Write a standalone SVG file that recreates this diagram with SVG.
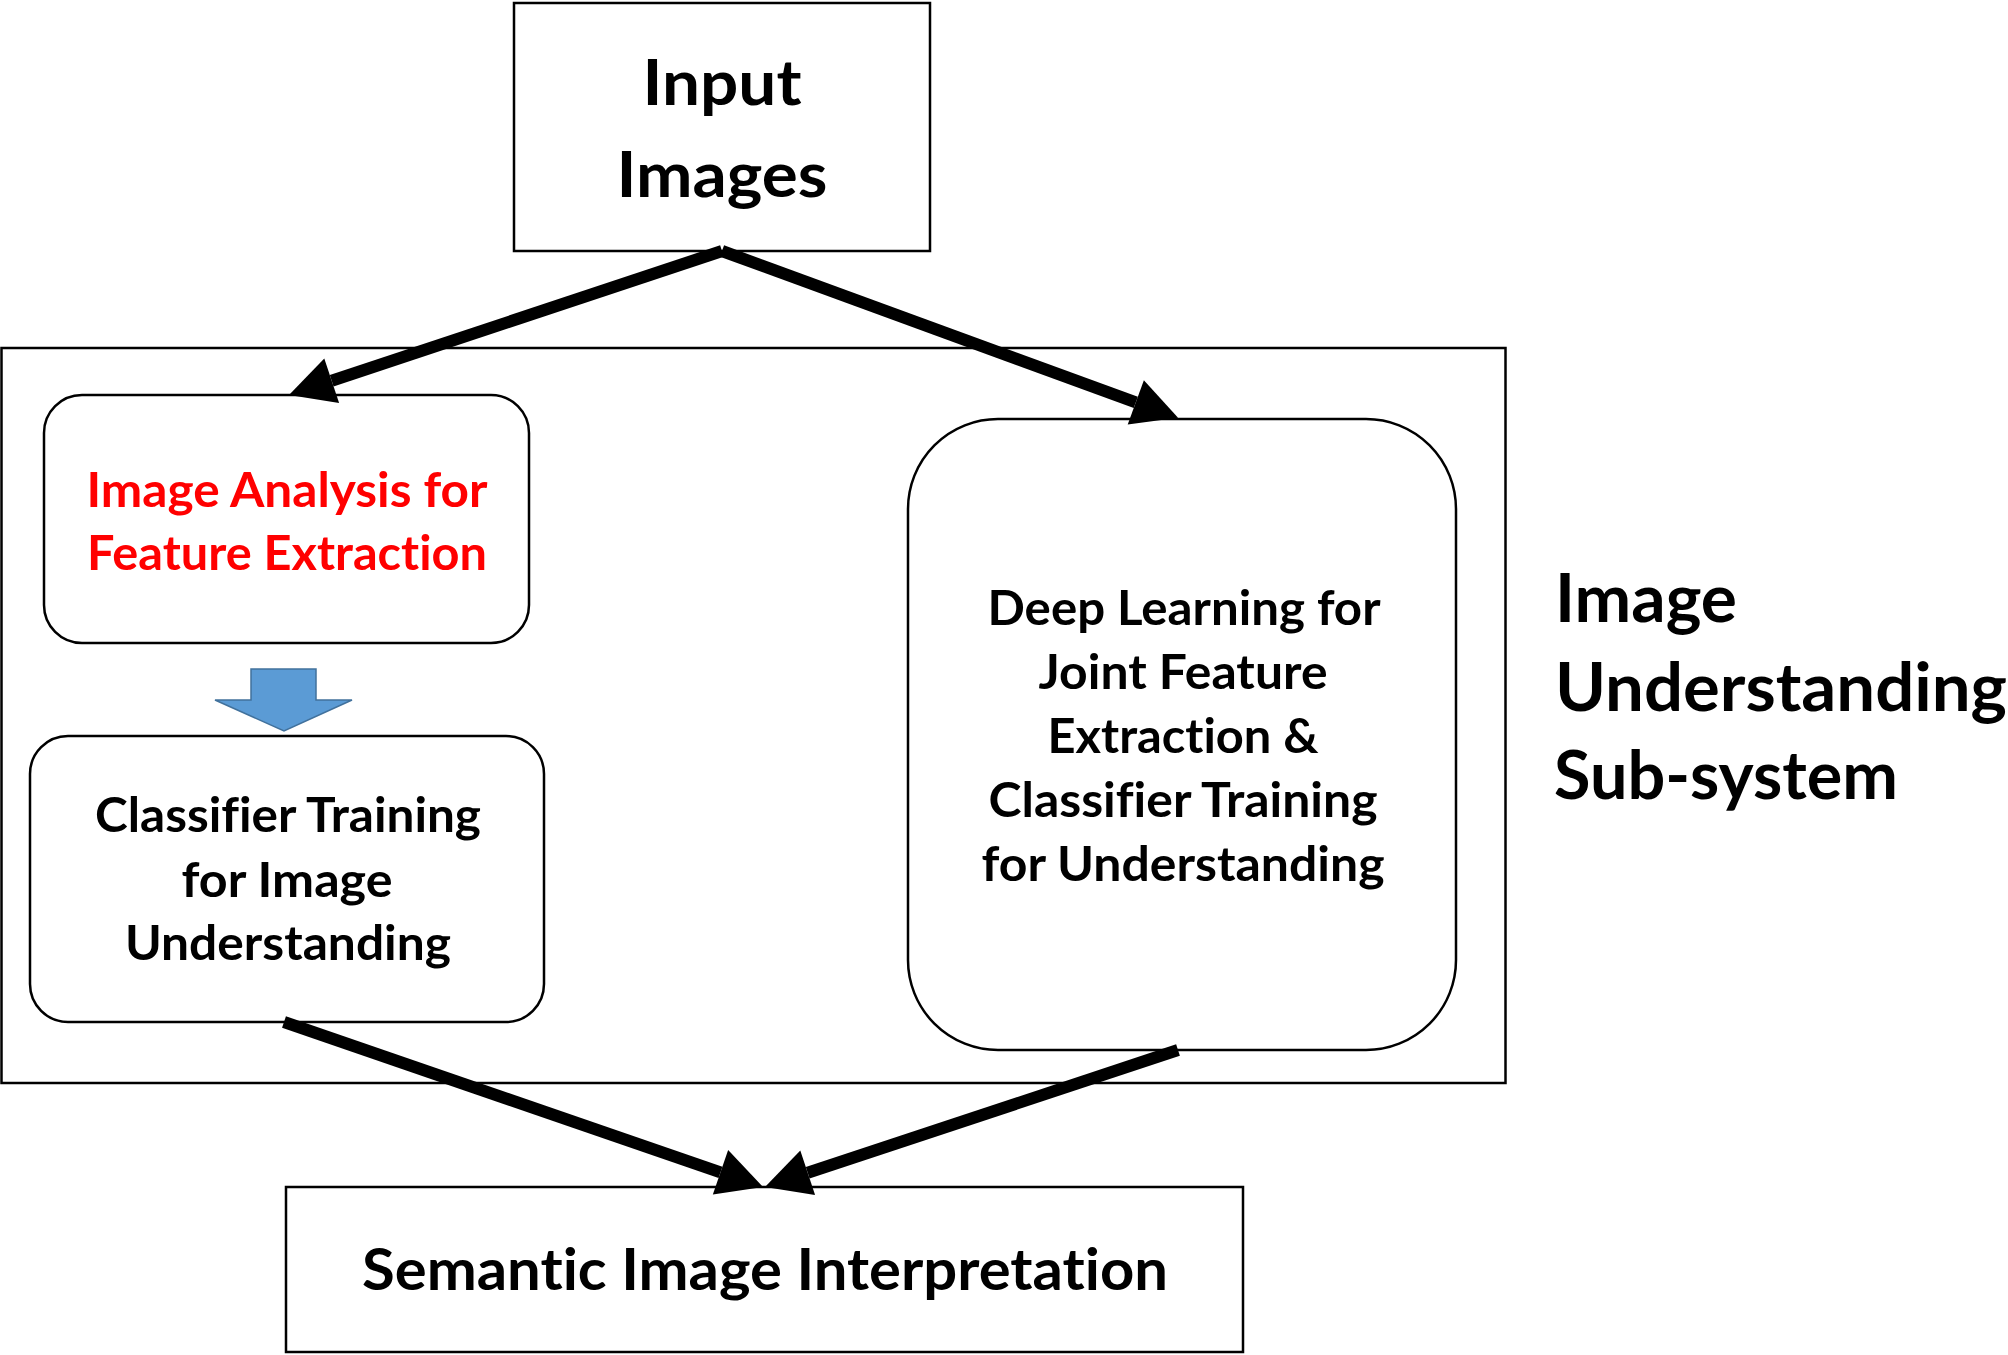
<svg xmlns="http://www.w3.org/2000/svg" width="2008" height="1355" viewBox="0 0 2008 1355">
<style>
.box{fill:#fff;stroke:#000;stroke-width:2.5}
.t{font-family:Lato,"Open Sans","Liberation Sans",sans-serif;font-weight:bold;fill:#000;font-variant-ligatures:none;font-feature-settings:"liga" 0,"clig" 0}
.m{text-anchor:middle}
.red{fill:#FF0000}
.conn{stroke:#000;stroke-width:12;fill:none;stroke-linecap:butt}
</style>
<defs>
<marker id="ah" markerUnits="userSpaceOnUse" markerWidth="50" markerHeight="50" refX="0" refY="23.5" orient="auto" overflow="visible">
<path d="M0,0 L45,23.5 L0,47 z" fill="#000"/>
</marker>
</defs>
<rect x="1.5" y="348" width="1504" height="735" fill="none" stroke="#000" stroke-width="2.5"/>
<g id="input">
<rect class="box" x="514" y="3" width="416" height="248"/>
<text class="t m" x="722" y="105" font-size="63" textLength="159" lengthAdjust="spacingAndGlyphs">Input</text>
<text class="t m" x="722" y="197" font-size="63" textLength="211" lengthAdjust="spacingAndGlyphs">Images</text>
</g>
<g id="analysis">
<rect class="box" x="44" y="395" width="485" height="248" rx="38"/>
<text class="t m red" x="287" y="507" font-size="48" textLength="401" lengthAdjust="spacingAndGlyphs">Image Analysis for</text>
<text class="t m red" x="287" y="570" font-size="48" textLength="400" lengthAdjust="spacingAndGlyphs">Feature Extraction</text>
</g>
<g id="blue-arrow">
<polygon points="251,669 316,669 316,700 352,700 284,731 215,700 251,700" fill="#5B9BD5" stroke="#41719C" stroke-width="1.5"/>
</g>
<g id="classifier">
<rect class="box" x="30" y="736" width="514" height="286" rx="38"/>
<text class="t m" x="288" y="832" font-size="48" textLength="386" lengthAdjust="spacingAndGlyphs">Classifier Training</text>
<text class="t m" x="287" y="897" font-size="48" textLength="211" lengthAdjust="spacingAndGlyphs">for Image</text>
<text class="t m" x="288" y="960" font-size="48" textLength="326" lengthAdjust="spacingAndGlyphs">Understanding</text>
</g>
<g id="deep">
<rect class="box" x="908" y="419" width="548" height="631" rx="90"/>
<text class="t m" x="1184" y="625" font-size="48" textLength="393" lengthAdjust="spacingAndGlyphs">Deep Learning for</text>
<text class="t m" x="1183" y="689" font-size="48" textLength="289" lengthAdjust="spacingAndGlyphs">Joint Feature</text>
<text class="t m" x="1183" y="753" font-size="48" textLength="271" lengthAdjust="spacingAndGlyphs">Extraction &amp;</text>
<text class="t m" x="1183" y="817" font-size="48" textLength="389" lengthAdjust="spacingAndGlyphs">Classifier Training</text>
<text class="t m" x="1183" y="881" font-size="48" textLength="403" lengthAdjust="spacingAndGlyphs">for Understanding</text>
</g>
<g id="subsystem-label">
<text class="t" x="1555" y="622" font-size="67" textLength="182" lengthAdjust="spacingAndGlyphs">Image</text>
<text class="t" x="1555" y="711" font-size="67" textLength="452" lengthAdjust="spacingAndGlyphs">Understanding</text>
<text class="t" x="1554" y="799" font-size="67" textLength="344" lengthAdjust="spacingAndGlyphs">Sub-system</text>
</g>
<g id="semantic">
<rect class="box" x="286" y="1187" width="957" height="165"/>
<text class="t m" x="765" y="1290" font-size="57" textLength="806" lengthAdjust="spacingAndGlyphs">Semantic Image Interpretation</text>
</g>
<g id="connectors">
<line class="conn" x1="722" y1="251" x2="331.7" y2="380.7" marker-end="url(#ah)"/>
<line class="conn" x1="722" y1="251" x2="1135.8" y2="402.4" marker-end="url(#ah)"/>
<line class="conn" x1="284" y1="1022" x2="720.5" y2="1172.3" marker-end="url(#ah)"/>
<line class="conn" x1="1178" y1="1050" x2="807.7" y2="1172.8" marker-end="url(#ah)"/>
</g>
</svg>
